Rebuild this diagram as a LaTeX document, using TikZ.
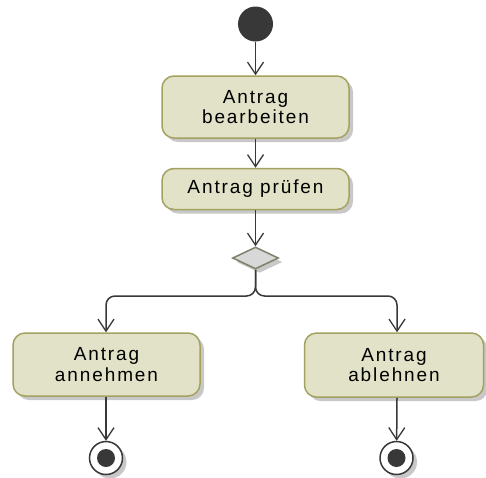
\documentclass[tikz,border=0pt]{standalone}
\usepackage{fontspec}
\setmainfont{Liberation Sans}[LetterSpace=10]
\usetikzlibrary{arrows.meta,shapes.geometric,shadows}
\definecolor{actfill}{RGB}{226,226,200}
\definecolor{actdraw}{RGB}{163,162,96}
\definecolor{decfill}{RGB}{216,216,216}
\definecolor{decdraw}{RGB}{126,128,104}
\definecolor{flow}{RGB}{56,56,56}
\definecolor{shade}{RGB}{200,200,200}
\begin{document}
\begin{tikzpicture}[x=1pt,y=-1pt,
  shade/.style={drop shadow={shadow xshift=4pt,shadow yshift=-4pt,fill=shade,opacity=1}},
  activity/.style={draw=actdraw,fill=actfill,line width=1.5pt,rounded corners=12pt,
    inner sep=0pt,align=center,font=\fontsize{19}{20.5}\selectfont,text=black,shade},
  decision/.style={diamond,aspect=2.1,draw=decdraw,fill=decfill,line width=1.5pt,
    inner sep=0pt,minimum width=46pt,minimum height=22pt,shade},
  startnode/.style={circle,fill=flow,inner sep=0pt,minimum size=35pt},
  endouter/.style={circle,draw=flow,fill=white,line width=1.5pt,inner sep=0pt,minimum size=33pt,shade},
  endinner/.style={circle,fill=flow,inner sep=0pt,minimum size=18pt},
  flowline/.style={draw=flow,line width=1.5pt,-{Straight Barb[length=12pt,width=16pt,line width=1.3pt]}},
]
\useasboundingbox (0,0) rectangle (486,477);

% nodes
\node[startnode] (start) at (255.5,24) {};
\node[activity,minimum width=187pt,minimum height=62pt] (bearb) at (255.5,107) {Antrag\\bearbeiten};
\node[activity,minimum width=187pt,minimum height=41pt] (pruef) at (255.5,189) {Antrag prüfen};
\node[decision] (dec) at (255.5,258) {};
\node[activity,minimum width=187pt,minimum height=63pt] (annehm) at (106.5,364.5) {Antrag\\annehmen};
\node[activity,minimum width=179pt,minimum height=64pt] (ablehn) at (394,365) {Antrag\\ablehnen};
\node[endouter] (endA) at (106,458) {};
\node[endinner] at (endA) {};
\node[endouter] (endB) at (396.5,458) {};
\node[endinner] at (endB) {};

% branch point and landing points
\coordinate (split) at (255.5,296);
\coordinate (lx) at (106,0);
\coordinate (rx) at (397,0);

% flows
\draw[flowline] (start) -- (bearb);
\draw[flowline] (bearb) -- (pruef);
\draw[flowline] (pruef) -- (dec);
\draw[flowline,rounded corners=9pt] (dec.south) -- (split) -| (annehm.north -| lx);
\draw[flowline,rounded corners=9pt] (dec.south) -- (split) -| (ablehn.north -| rx);
\draw[flowline] (annehm.south -| lx) -- (endA);
\draw[flowline] (ablehn.south -| rx) -- (endB);
\end{tikzpicture}
\end{document}
